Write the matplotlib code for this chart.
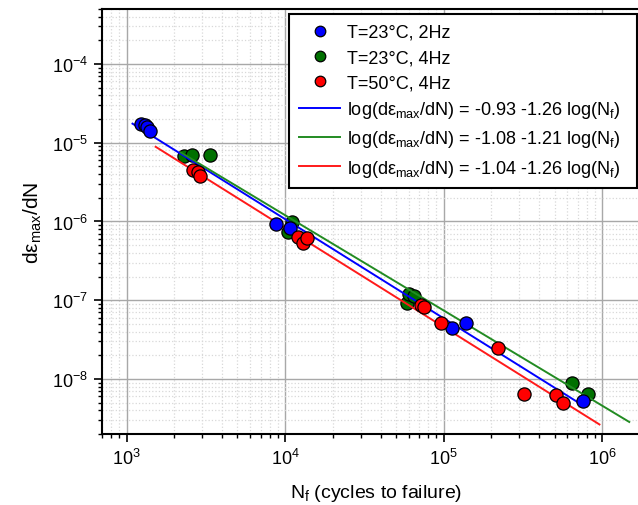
import numpy as np
import matplotlib
matplotlib.use("Agg")
import matplotlib.pyplot as plt

plt.rcParams['font.family'] = ['Liberation Sans', 'DejaVu Sans']
plt.rcParams['mathtext.default'] = 'regular'

# data
n_2hz_23 = [1230, 1300, 1340, 1400, 8700, 10800, 112000, 139000, 760000]
r_2hz_23 = [1.72e-5, 1.68e-5, 1.58e-5, 1.42e-5, 9.2e-7, 8.2e-7, 4.4e-8, 5.2e-8, 5.3e-9]

n_4hz_23 = [2290, 2570, 3340, 10500, 11100, 59000, 60700, 65300, 646000, 815000]
r_4hz_23 = [6.8e-6, 6.9e-6, 6.9e-6, 7.3e-7, 9.8e-7, 9.1e-8, 1.19e-7, 1.12e-7, 8.8e-9, 6.4e-9]

n_4hz_50 = [2610, 2840, 2890, 12100, 13000, 13800, 72300, 75500, 96700, 221000, 322000, 512000, 567000]
r_4hz_50 = [4.5e-6, 4.2e-6, 3.8e-6, 6.3e-7, 5.4e-7, 6.2e-7, 8.6e-8, 8.1e-8, 5.2e-8, 2.45e-8, 6.5e-9, 6.2e-9, 5.0e-9]

# fitted lines: log(rate) = a + b log(Nf), with plotted N range
fit_a = [-0.93, -1.08, -1.04]
fit_b = [-1.26, -1.21, -1.26]
fit_range = [(1090, 7.7e5), (2200, 1.48e6), (1525, 9.6e5)]
fit_colors = ['#0000ff', '#228b22', '#ff1a1a']

labels_pts = ['T=23°C, 2Hz', 'T=23°C, 4Hz', 'T=50°C, 4Hz']

fig = plt.figure(figsize=(6.38, 5.06), dpi=100)
ax = fig.add_axes([102 / 638, 71 / 506, 548 / 638, 425 / 506])
ax.set_xscale('log')
ax.set_yscale('log')
ax.set_xlim(700, 2e6)
ax.set_ylim(2e-9, 5e-4)

ax.grid(True, which='major', color='#a8a8a8', linestyle='-', linewidth=1.0, zorder=0)
ax.grid(True, which='minor', color='#d8d8d8', linestyle=':', linewidth=0.9, zorder=0)
ax.set_axisbelow(True)

ms = 9.5
h_green, = ax.plot(n_4hz_23, r_4hz_23, 'o', color='#007000', mec='black', mew=0.9, ms=ms, zorder=2)

line_handles = []
line_labels = []
for a, b, (n0, n1), c in zip(fit_a, fit_b, fit_range, fit_colors):
    nn = np.array([n0, n1])
    h, = ax.plot(nn, 10 ** (a + b * np.log10(nn)), '-', color=c, lw=1.4, zorder=3)
    line_handles.append(h)
    line_labels.append('log(dε$_{max}$/dN) = %.2f %.2f log(N$_f$)' % (a, b))

h_blue, = ax.plot(n_2hz_23, r_2hz_23, 'o', color='#0000ff', mec='black', mew=0.9, ms=ms, zorder=4)
h_red, = ax.plot(n_4hz_50, r_4hz_50, 'o', color='#ff0000', mec='black', mew=0.9, ms=ms, zorder=4)

ax.set_xlabel('N$_f$ (cycles to failure)', fontsize=14, labelpad=10)
ax.set_ylabel('dε$_{max}$/dN', fontsize=15, labelpad=6)

ax.tick_params(which='major', direction='out', length=6, width=1.2, labelsize=13, pad=4)
ax.tick_params(which='minor', direction='out', length=3, width=1.0)
for s in ['left', 'bottom', 'top']:
    ax.spines[s].set_linewidth(1.5)
ax.spines['right'].set_visible(False)

top = 1 - 15 / 506
leg = ax.legend([h_blue, h_green, h_red] + line_handles,
                labels_pts + line_labels,
                loc='upper left', bbox_to_anchor=(289 / 638, 0, 348 / 638, top),
                bbox_transform=fig.transFigure, borderaxespad=0, mode='expand',
                fontsize=13, fancybox=False, framealpha=1, edgecolor='black',
                handlelength=2.3, handletextpad=0.35, labelspacing=0.45,
                markerscale=0.8, borderpad=0.55)
leg.get_frame().set_linewidth(1.5)

fig.savefig('out.png', dpi=100)
